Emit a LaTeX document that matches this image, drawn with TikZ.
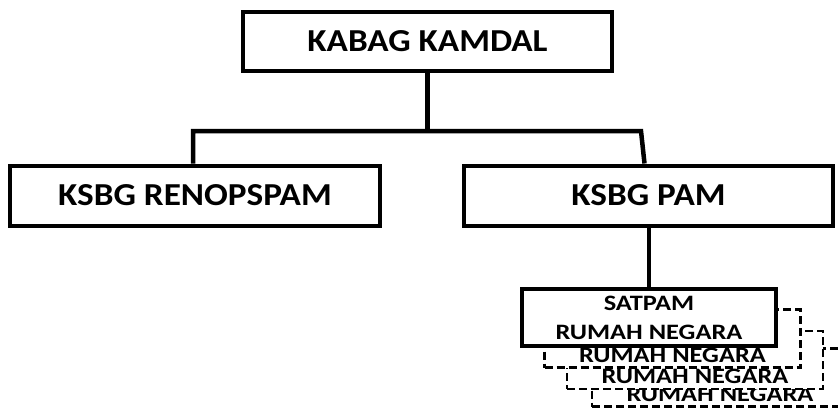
\documentclass[tikz,border=0pt]{standalone}
\usepackage{fontspec}
\newfontfamily\bigfont[FakeStretch=1.1]{Carlito}
\newfontfamily\smallfont[FakeStretch=1.2]{Carlito}
\begin{document}
\begin{tikzpicture}[x=1pt,y=-1pt,
  mainbox/.style={draw=black, line width=4pt, fill=white, inner sep=0pt,
    font=\bigfont\bfseries\fontsize{32}{36}\selectfont},
  satbox/.style={draw=black, line width=3.5pt, fill=white, inner sep=0pt, align=center,
    font=\smallfont\bfseries\fontsize{22}{29}\selectfont, minimum width=254pt, minimum height=57pt},
  backbox/.style={draw=black, line width=2.5pt, dash pattern=on 8pt off 4pt, fill=white, inner sep=0pt, align=center,
    font=\smallfont\bfseries\fontsize{22}{29}\selectfont, minimum width=256pt, minimum height=58pt},
  conn/.style={line width=4.5pt, draw=black}]
\useasboundingbox (0,0) rectangle (838,412);
\begin{scope}
\clip (0,0) rectangle (838,412);
\node[mainbox, minimum width=369pt, minimum height=59pt] (top) at (427.5,41.5) {KABAG KAMDAL};
\node[mainbox, minimum width=370pt, minimum height=60pt] (left) at (195,195.5) {KSBG RENOPSPAM};
\node[mainbox, minimum width=369pt, minimum height=60pt] (right) at (648.5,195.5) {KSBG PAM};
\node[backbox] (b3) at (720,377.5) {\phantom{SATPAM}\\[5pt]RUMAH NEGARA};
\node[backbox] (b2) at (695,360) {\phantom{SATPAM}\\[4pt]RUMAH NEGARA};
\node[backbox] (b1) at (672.5,338.5) {\phantom{SATPAM}\\[4pt]RUMAH NEGARA};
\node[satbox] (sat) at (649,317.5) {\raisebox{-1.5pt}{SATPAM}\\\raisebox{-1.5pt}{RUMAH NEGARA}};
\coordinate (bl) at (193,131);
\coordinate (br) at (641,131);
\draw[conn] (top.south) -- (top.south |- bl);
\draw[conn, line join=miter] (bl |- left.north) -- (bl) -- (br) -- ([xshift=-4pt]right.north);
\draw[conn] (right.south -| sat.north) -- (sat.north);
\end{scope}
\end{tikzpicture}
\end{document}
